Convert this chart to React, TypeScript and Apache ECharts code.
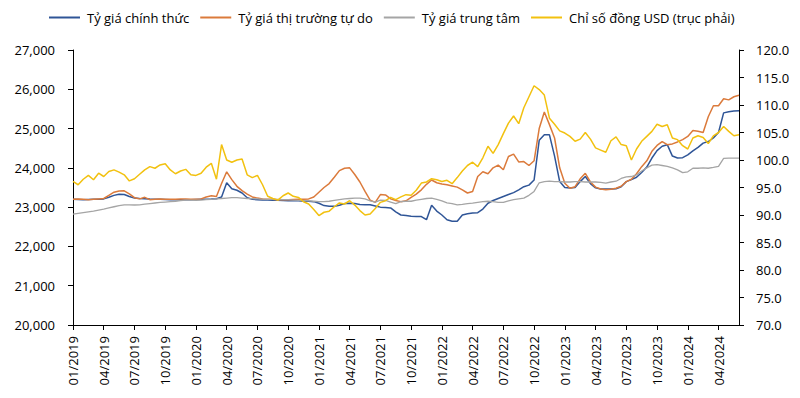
import React, { useEffect, useRef } from "react";
import * as echarts from "echarts";

// Semi-monthly observation dates: 1st and 16th of each month, Jan 2019 – Jun 2024
const categories: string[] = [];
for (let y = 2019; y <= 2024; y++) {
  for (let m = 1; m <= 12; m++) {
    for (const d of [1, 16]) {
      if (y === 2024 && (m > 6 || (m === 6 && d === 16))) continue;
      categories.push(`${y}-${String(m).padStart(2, "0")}-${String(d).padStart(2, "0")}`);
    }
  }
}

const seriesNames = [
  "Tỷ giá chính thức",
  "Tỷ giá thị trường tự do",
  "Tỷ giá trung tâm",
  "Chỉ số đồng USD (trục phải)",
];

const officialRate = [
  23200, 23195, 23190, 23195, 23200, 23200, 23210, 23250, 23300, 23330,
  23320, 23270, 23230, 23220, 23215, 23205, 23200, 23200, 23195, 23190,
  23190, 23190, 23185, 23190, 23195, 23200, 23200, 23205, 23215, 23260,
  23620, 23470, 23430, 23360, 23240, 23200, 23190, 23180, 23180, 23175,
  23175, 23170, 23165, 23160, 23160, 23150, 23150, 23140, 23100, 23040,
  23020, 23020, 23050, 23090, 23100, 23090, 23070, 23060, 23060, 23030,
  23000, 22990, 22980, 22880, 22800, 22790, 22770, 22760, 22760, 22680,
  23050, 22900, 22800, 22680, 22640, 22640, 22800, 22830, 22850, 22860,
  22950, 23100, 23170, 23220, 23270, 23320, 23370, 23440, 23520, 23560,
  23690, 24700, 24840, 24840, 24300, 23650, 23500, 23490, 23500, 23650,
  23780, 23600, 23490, 23460, 23460, 23460, 23470, 23520, 23650, 23700,
  23760, 23880, 24020, 24250, 24440, 24550, 24590, 24300, 24250, 24260,
  24330, 24430, 24520, 24630, 24670, 24760, 24900, 25400, 25430, 25450,
  25455,
];

const freeMarketRate = [
  23200, 23210, 23200, 23190, 23200, 23210, 23220, 23300, 23380, 23410,
  23415, 23340, 23240, 23210, 23250, 23190, 23200, 23210, 23200, 23200,
  23200, 23210, 23210, 23200, 23200, 23210, 23260, 23290, 23270, 23600,
  23900, 23700, 23530, 23420, 23330, 23260, 23230, 23210, 23200, 23200,
  23190, 23190, 23190, 23195, 23200, 23200, 23210, 23260, 23380, 23500,
  23600, 23760, 23930, 23990, 24000, 23830, 23640, 23400, 23180, 23120,
  23320, 23310, 23210, 23170, 23140, 23160, 23250, 23330, 23440, 23580,
  23690, 23620, 23590, 23570, 23540, 23510, 23440, 23360, 23400, 23780,
  23900, 23850, 24000, 24070, 23950, 24290, 24350, 24150, 24160, 24060,
  24180, 25000, 25420, 25100, 24760, 24000, 23610, 23480, 23520, 23720,
  23860, 23640, 23510, 23460, 23440, 23455, 23480, 23530, 23650, 23710,
  23850, 24030, 24180, 24420, 24570, 24670, 24590, 24610, 24660, 24720,
  24800, 24950, 24930, 24900, 25300, 25580, 25580, 25760, 25730, 25810,
  25850,
];

const centralRate = [
  22820, 22840, 22860, 22880, 22900, 22925, 22950, 22980, 23010, 23040,
  23060, 23060, 23055, 23060, 23075, 23090, 23105, 23120, 23130, 23140,
  23150, 23165, 23180, 23180, 23175, 23180, 23190, 23200, 23210, 23220,
  23230, 23240, 23240, 23230, 23220, 23215, 23210, 23205, 23200, 23200,
  23195, 23190, 23190, 23180, 23170, 23160, 23160, 23150, 23140, 23140,
  23150, 23170, 23190, 23210, 23220, 23230, 23230, 23210, 23160, 23130,
  23180, 23170, 23130, 23090, 23140, 23150, 23150, 23180, 23200, 23220,
  23230, 23200, 23160, 23110, 23090, 23060, 23070, 23090, 23100, 23120,
  23140, 23150, 23140, 23120, 23120, 23160, 23190, 23210, 23230, 23300,
  23400, 23620, 23650, 23660, 23650, 23650, 23640, 23640, 23650, 23650,
  23640, 23640, 23640, 23630, 23610, 23640, 23660, 23730, 23770, 23780,
  23820, 23920, 24000, 24070, 24080, 24060, 24040, 24000, 23950, 23880,
  23900, 23990, 23990, 24000, 23990, 24010, 24040, 24240, 24250, 24250,
  24250,
];

const usdIndex = [
  96.1, 95.5, 96.5, 97.2, 96.4, 97.6, 97.0, 97.9, 98.2, 97.8,
  97.3, 96.2, 96.6, 97.4, 98.2, 98.8, 98.5, 99.1, 99.3, 98.2,
  97.5, 98.0, 98.3, 97.3, 97.2, 97.6, 98.7, 99.4, 96.5, 102.8,
  100.0, 99.6, 100.0, 100.2, 97.3, 96.8, 97.2, 95.5, 93.4, 93.0,
  92.7, 93.5, 94.0, 93.4, 93.2, 92.4, 92.0, 91.0, 89.9, 90.5,
  90.7, 91.5, 92.2, 92.0, 92.6, 91.8, 90.8, 90.0, 90.2, 91.2,
  92.3, 92.6, 93.2, 92.8, 93.3, 93.7, 93.6, 94.5, 95.8, 96.0,
  96.6, 96.4, 96.1, 96.3, 95.7, 96.8, 98.0, 99.0, 99.6, 98.8,
  100.4, 102.5, 101.2, 102.8, 104.8, 106.7, 108.0, 106.6, 109.5, 111.5,
  113.5, 112.8, 111.8, 107.6, 106.5, 105.3, 104.9, 104.3, 103.4, 103.8,
  105.0, 103.8, 102.2, 101.8, 101.4, 103.5, 104.2, 102.8, 102.6, 100.0,
  102.0, 103.4, 104.3, 105.2, 106.5, 106.1, 106.4, 104.0, 103.7, 102.6,
  102.0, 104.0, 104.4, 104.1, 103.0, 104.4, 105.0, 106.1, 105.2, 104.4,
  104.6,
];

const colors = ["#2F5597", "#DB7A3B", "#A5A5A5", "#F2C10F"];
const FONT = "'Open Sans', 'Noto Sans', sans-serif";

export default function App() {
  const ref = useRef<HTMLDivElement>(null);

  useEffect(() => {
    if (!ref.current) return;
    const chart = echarts.init(ref.current, undefined, { renderer: "svg" });
    const lineSeries = (name: string, data: number[], color: string, yAxisIndex: number, width: number) => ({
      name,
      type: "line",
      data,
      yAxisIndex,
      symbol: "none",
      lineStyle: { color, width },
      itemStyle: { color },
    });
    chart.setOption({
      animation: false,
      backgroundColor: "#fff",
      textStyle: { fontFamily: FONT },
      legend: {
        top: 6,
        left: 44,
        icon: "rect",
        itemWidth: 31,
        itemHeight: 2,
        itemGap: 11,
        textStyle: { fontSize: 13, color: "#000", fontFamily: FONT, padding: [0, 0, 0, 2] },
        data: seriesNames,
      },
      grid: { left: 73, right: 61, top: 50, bottom: 73, containLabel: false },
      xAxis: {
        type: "category",
        data: categories,
        boundaryGap: false,
        axisLine: { show: true, lineStyle: { color: "#000", width: 1 } },
        axisTick: { show: true, interval: 5, length: 5, lineStyle: { color: "#000" } },
        axisLabel: {
          interval: 5,
          rotate: 90,
          margin: 11,
          fontSize: 13,
          color: "#000",
          fontFamily: FONT,
          formatter: (v: string) => `${v.slice(5, 7)}/${v.slice(0, 4)}`,
        },
        splitLine: { show: false },
      },
      yAxis: [
        {
          type: "value",
          position: "left",
          min: 20000,
          max: 27000,
          interval: 1000,
          axisLine: { show: true, lineStyle: { color: "#000", width: 1 } },
          axisTick: { show: true, length: 5, lineStyle: { color: "#000" } },
          axisLabel: {
            fontSize: 13,
            color: "#000",
            margin: 18,
            fontFamily: FONT,
            formatter: (v: number) => v.toLocaleString("en-US"),
          },
          splitLine: { show: false },
        },
        {
          type: "value",
          position: "right",
          min: 70,
          max: 120,
          interval: 5,
          axisLine: { show: true, lineStyle: { color: "#000", width: 1 } },
          axisTick: { show: true, length: 5, lineStyle: { color: "#000" } },
          axisLabel: {
            fontSize: 13,
            color: "#000",
            margin: 17,
            fontFamily: FONT,
            formatter: (v: number) => v.toFixed(1),
          },
          splitLine: { show: false },
        },
      ],
      series: [
        lineSeries(seriesNames[0], officialRate, colors[0], 0, 1.5),
        lineSeries(seriesNames[1], freeMarketRate, colors[1], 0, 1.5),
        lineSeries(seriesNames[2], centralRate, colors[2], 0, 1.3),
        lineSeries(seriesNames[3], usdIndex, colors[3], 1, 1.5),
      ],
    });
    return () => chart.dispose();
  }, []);

  return (
    <div
      ref={ref}
      style={{ position: "fixed", left: 0, top: 0, width: 800, height: 398, background: "#fff" }}
    />
  );
}
